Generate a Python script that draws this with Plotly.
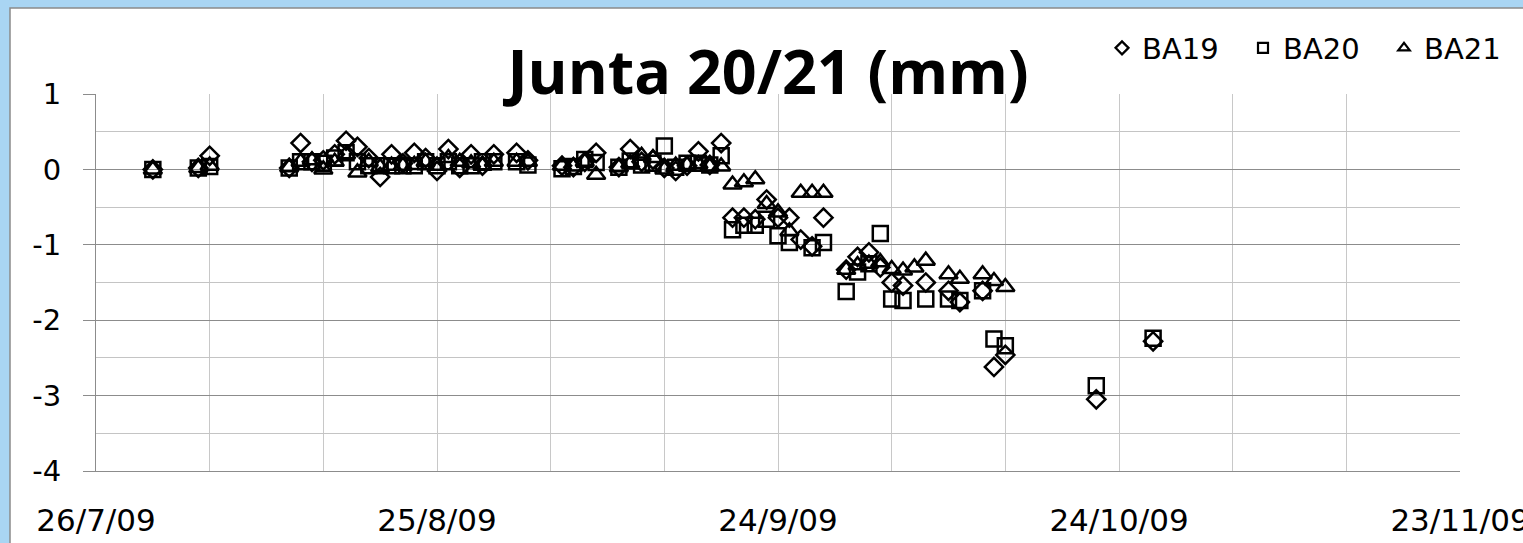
import plotly.graph_objects as go

dates = ["2009-07-31", "2009-08-04", "2009-08-05", "2009-08-12", "2009-08-13", "2009-08-14",
         "2009-08-15", "2009-08-16", "2009-08-17", "2009-08-18", "2009-08-19", "2009-08-20",
         "2009-08-21", "2009-08-22", "2009-08-23", "2009-08-24", "2009-08-25", "2009-08-26",
         "2009-08-27", "2009-08-28", "2009-08-29", "2009-08-30", "2009-09-01", "2009-09-02",
         "2009-09-05", "2009-09-06", "2009-09-07", "2009-09-08", "2009-09-10", "2009-09-11",
         "2009-09-12", "2009-09-13", "2009-09-14", "2009-09-15", "2009-09-16", "2009-09-17",
         "2009-09-18", "2009-09-19", "2009-09-20", "2009-09-21", "2009-09-22", "2009-09-23",
         "2009-09-24", "2009-09-25", "2009-09-26", "2009-09-27", "2009-09-28", "2009-09-30",
         "2009-10-01", "2009-10-02", "2009-10-03", "2009-10-04", "2009-10-05", "2009-10-06",
         "2009-10-07", "2009-10-09", "2009-10-10", "2009-10-12", "2009-10-13", "2009-10-14",
         "2009-10-22", "2009-10-27"]

ba19 = [0.0, 0.02, 0.18, 0.02, 0.35, 0.1,
        0.12, 0.2, 0.38, 0.3, 0.15, -0.1,
        0.2, 0.08, 0.22, 0.15, -0.02, 0.27,
        0.02, 0.2, 0.05, 0.2, 0.22, 0.12,
        0.05, 0.03, 0.1, 0.22, 0.03, 0.27,
        0.1, 0.13, 0.02, -0.02, 0.05, 0.24,
        0.06, 0.35, -0.64, -0.64, -0.66, -0.4,
        -0.64, -0.64, -0.93, -1.02, -0.64, -1.33,
        -1.16, -1.1, -1.3, -1.5, -1.54, None,
        -1.5, -1.61, -1.76, -1.61, -2.62, -2.46,
        -3.05, -2.28]

ba20 = [0.0, 0.02, 0.04, 0.02, 0.1, 0.1,
        0.08, 0.15, 0.22, 0.1, 0.05, 0.05,
        0.05, 0.05, 0.05, 0.1, 0.05, 0.1,
        0.05, 0.05, 0.1, 0.1, 0.1, 0.06,
        0.01, 0.04, 0.13, 0.09, 0.03, 0.11,
        0.06, 0.08, 0.31, 0.03, 0.08, 0.08,
        0.06, 0.18, -0.8, -0.74, -0.74, -0.66,
        -0.88, -0.97, None, -1.04, -0.97, -1.62,
        -1.36, -1.25, -0.85, -1.72, -1.74, None,
        -1.72, -1.72, -1.74, -1.61, -2.25, -2.34,
        -2.87, -2.24]

ba21 = [0.0, 0.02, 0.05, 0.03, 0.1, 0.12,
        0.0, 0.1, 0.2, -0.04, 0.1, 0.03,
        0.05, 0.05, 0.06, 0.1, 0.05, 0.15,
        0.1, 0.08, 0.05, 0.1, 0.1, 0.1,
        0.05, 0.04, 0.1, -0.07, 0.03, 0.08,
        0.18, 0.15, 0.0, 0.05, 0.06, 0.07,
        0.04, 0.04, -0.2, -0.17, -0.13, -0.46,
        -0.57, -0.82, -0.31, -0.31, -0.31, -1.33,
        -1.27, -1.25, -1.23, -1.32, -1.34, -1.3,
        -1.21, -1.39, -1.45, -1.39, -1.48, -1.56,
        None, None]

series_names = ["BA19", "BA20", "BA21"]
series_symbols = ["diamond-open", "square-open", "triangle-up-open"]
series_sizes = [14, 15, 16]

x_tickvals = ["2009-07-26", "2009-08-25", "2009-09-24", "2009-10-24", "2009-11-23"]
x_ticktext = ["26/7/09", "25/8/09", "24/9/09", "24/10/09", "23/11/09"]
y_tickvals = [-4, -3, -2, -1, 0, 1]
y_ticktext = ["-4", "-3", "-2", "-1", "0", "1"]

fig = go.Figure()
for name, vals, sym, sz in zip(series_names, [ba19, ba20, ba21], series_symbols, series_sizes):
    fig.add_trace(go.Scatter(
        x=dates, y=vals, mode="markers", name=name, showlegend=False,
        marker=dict(symbol=sym, size=sz, color="black", line=dict(color="black", width=2.5)),
        cliponaxis=False,
    ))
    # legend entry with a small symbol, as in the reference
    fig.add_trace(go.Scatter(
        x=[None], y=[None], mode="markers", name=name, showlegend=True,
        marker=dict(symbol=sym, size=10, color="black", line=dict(color="black", width=2.2)),
    ))

W, H = 1523, 543
L, R, T, B = 96, 63, 94, 72
pw, ph = W - L - R, H - T - B

def px_to_paper_x(px):
    return (px - L) / pw

def px_to_paper_y(py):
    return (H - B - py) / ph

fig.update_layout(
    width=W, height=H,
    margin=dict(l=L, r=R, t=T, b=B, autoexpand=False),
    paper_bgcolor="#A9D5F3",
    plot_bgcolor="white",
    title=dict(
        text="<b>Junta 20/21 (mm)</b>",
        font=dict(family="Open Sans", size=61, color="black"),
        x=768 / W, xref="container", xanchor="center",
        y=1 - 73 / H, yref="container", yanchor="middle",
    ),
    showlegend=True,
    legend=dict(
        orientation="h", x=1102 / W, y=1 - 48 / H,
        xref="container", yref="container",
        xanchor="left", yanchor="middle",
        font=dict(family="DejaVu Sans", size=29, color="black"),
        bgcolor="rgba(0,0,0,0)", itemwidth=30, tracegroupgap=0,
        entrywidth=96, entrywidthmode="pixels",
    ),
    xaxis=dict(
        type="date",
        range=["2009-07-26", "2009-11-23"],
        tickvals=x_tickvals, ticktext=x_ticktext,
        showgrid=True, gridcolor="#C8C8C8", gridwidth=1,
        minor=dict(dtick=10 * 86400000, tick0="2009-07-26", showgrid=True,
                   gridcolor="#C8C8C8", gridwidth=1),
        ticks="", showline=True, linecolor="#8C8C8C", linewidth=1,
        tickfont=dict(family="DejaVu Sans", size=31, color="black"),
        ticklabelstandoff=22, ticklabeloverflow="allow", automargin=False,
        zeroline=False,
    ),
    yaxis=dict(
        range=[-4, 1],
        tickvals=y_tickvals, ticktext=y_ticktext,
        showgrid=True, gridcolor="#8C8C8C", gridwidth=1,
        minor=dict(dtick=0.5, showgrid=True, gridcolor="#C4C4C4", gridwidth=1, ticks=""),
        ticks="outside", ticklen=12, tickcolor="#8C8C8C", tickwidth=1,
        showline=True, linecolor="#8C8C8C", linewidth=1,
        tickfont=dict(family="DejaVu Sans", size=29, color="black"),
        ticklabelstandoff=16, automargin=False,
        zeroline=False,
    ),
    shapes=[dict(
        type="rect", xref="paper", yref="paper", layer="below",
        x0=px_to_paper_x(10), x1=px_to_paper_x(W + 5),
        y0=px_to_paper_y(H + 5), y1=px_to_paper_y(8),
        fillcolor="white", line=dict(color="#8A8A8A", width=1.5),
    )],
)

fig.write_html("out.html", config={"displayModeBar": False},
               post_script="document.body.style.margin='0px';")
